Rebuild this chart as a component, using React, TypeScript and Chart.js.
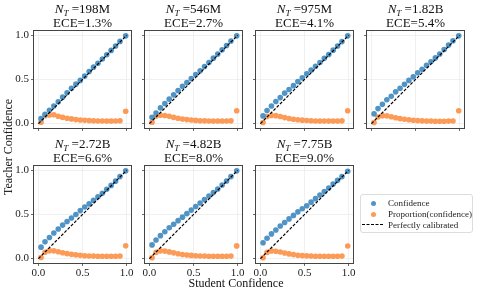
import React, { useEffect, useRef } from "react";
import { Chart, registerables } from "chart.js";
Chart.register(...registerables);

// ---------- data ----------
const studentConfidence = [0.03, 0.075, 0.125, 0.175, 0.225, 0.275, 0.325, 0.375, 0.425, 0.475, 0.525, 0.575, 0.625, 0.675, 0.725, 0.775, 0.825, 0.875, 0.925, 0.99];
const modelSizes = ["198M", "546M", "975M", "1.82B", "2.72B", "4.82B", "7.75B"];
const eceLabels = ["1.3%", "2.7%", "4.1%", "5.4%", "6.6%", "8.0%", "9.0%"];
const tickValues = [0, 0.5, 1.0];
const calibratedLine = [0, 1];

const teacher198M = [0.056, 0.105, 0.15, 0.2, 0.248, 0.3, 0.35, 0.4, 0.447, 0.49, 0.538, 0.59, 0.64, 0.684, 0.733, 0.78, 0.83, 0.88, 0.932, 0.995];
const teacher546M = [0.072, 0.12, 0.178, 0.227, 0.277, 0.326, 0.375, 0.424, 0.466, 0.51, 0.557, 0.6, 0.648, 0.693, 0.742, 0.788, 0.837, 0.886, 0.936, 0.995];
const teacher975M = [0.087, 0.148, 0.2, 0.25, 0.295, 0.345, 0.386, 0.43, 0.477, 0.52, 0.564, 0.606, 0.65, 0.693, 0.74, 0.784, 0.833, 0.88, 0.93, 0.995];
const teacher182B = [0.11, 0.17, 0.22, 0.27, 0.31, 0.36, 0.4, 0.445, 0.49, 0.53, 0.576, 0.617, 0.66, 0.7, 0.745, 0.79, 0.84, 0.89, 0.94, 0.995];
const teacher272B = [0.13, 0.19, 0.24, 0.29, 0.335, 0.38, 0.42, 0.46, 0.5, 0.544, 0.585, 0.62, 0.66, 0.7, 0.74, 0.787, 0.83, 0.878, 0.93, 0.995];
const teacher482B = [0.155, 0.21, 0.26, 0.305, 0.35, 0.39, 0.43, 0.47, 0.51, 0.55, 0.59, 0.63, 0.67, 0.71, 0.75, 0.79, 0.835, 0.88, 0.93, 0.995];
const teacher775B = [0.18, 0.23, 0.28, 0.325, 0.37, 0.41, 0.45, 0.49, 0.53, 0.566, 0.6, 0.64, 0.68, 0.72, 0.76, 0.8, 0.845, 0.887, 0.93, 0.99];

const proportion198M = [0.015, 0.09, 0.098, 0.1, 0.083, 0.07, 0.06, 0.053, 0.045, 0.041, 0.037, 0.034, 0.032, 0.03, 0.03, 0.029, 0.029, 0.03, 0.032, 0.14];
const proportion546M = [0.015, 0.085, 0.095, 0.092, 0.082, 0.07, 0.06, 0.052, 0.045, 0.04, 0.036, 0.033, 0.031, 0.03, 0.029, 0.029, 0.029, 0.03, 0.031, 0.145];
const proportion975M = [0.012, 0.08, 0.092, 0.09, 0.08, 0.068, 0.058, 0.05, 0.044, 0.039, 0.035, 0.032, 0.03, 0.029, 0.028, 0.028, 0.028, 0.029, 0.031, 0.145];
const proportion182B = [0.012, 0.075, 0.09, 0.088, 0.078, 0.066, 0.056, 0.049, 0.043, 0.038, 0.034, 0.031, 0.029, 0.028, 0.027, 0.027, 0.027, 0.028, 0.03, 0.145];
const proportion272B = [0.012, 0.072, 0.09, 0.088, 0.078, 0.066, 0.056, 0.048, 0.042, 0.037, 0.033, 0.03, 0.028, 0.027, 0.026, 0.026, 0.026, 0.027, 0.029, 0.145];
const proportion482B = [0.01, 0.07, 0.088, 0.085, 0.076, 0.065, 0.055, 0.047, 0.04, 0.036, 0.032, 0.03, 0.028, 0.027, 0.026, 0.026, 0.026, 0.027, 0.028, 0.144];
const proportion775B = [0.01, 0.07, 0.087, 0.083, 0.075, 0.064, 0.053, 0.045, 0.038, 0.034, 0.031, 0.029, 0.027, 0.026, 0.026, 0.026, 0.026, 0.027, 0.028, 0.143];

const teacherSeries = [teacher198M, teacher546M, teacher975M, teacher182B, teacher272B, teacher482B, teacher775B];
const proportionSeries = [proportion198M, proportion546M, proportion975M, proportion182B, proportion272B, proportion482B, proportion775B];

// ---------- styling ----------
const FONT = "'Liberation Serif', 'DejaVu Serif', serif";
const BLUE = "#5094c6";
const ORANGE = "#fc9b57";
const YW = 30;
const PT = 31;
const PR = 4;
const XH = 20;
const PW = 97;
const PH = 97;
const CW = YW + PW + PR;
const CH = PT + PH + XH;
const colLefts = [34, 145, 256, 367];
const rowTops = [31, 166];

const framePlugin = {
  id: "frame",
  afterDatasetsDraw(chart: any) {
    const { ctx, chartArea: a } = chart;
    ctx.save();
    ctx.strokeStyle = "#444";
    ctx.lineWidth = 1;
    ctx.strokeRect(Math.round(a.left) - 0.5, Math.round(a.top) - 0.5, Math.round(a.right - a.left) + 1, Math.round(a.bottom - a.top) + 1);
    ctx.restore();
  },
};

function makeTitlePlugin(size: string, ece: string) {
  return {
    id: "panelTitle",
    afterDraw(chart: any) {
      const { ctx, chartArea: a } = chart;
      const cx = (a.left + a.right) / 2;
      ctx.save();
      ctx.fillStyle = "#111";
      ctx.textBaseline = "alphabetic";
      const fN = `italic 13px ${FONT}`;
      const fT = `italic 9px ${FONT}`;
      const fR = `13px ${FONT}`;
      const rest = " =" + size;
      ctx.font = fN;
      const wN = ctx.measureText("N").width;
      ctx.font = fT;
      const wT = ctx.measureText("T").width;
      ctx.font = fR;
      const wR = ctx.measureText(rest).width;
      const total = wN + wT + wR;
      let x = cx - total / 2;
      const y1 = a.top - 18;
      ctx.textAlign = "left";
      ctx.font = fN;
      ctx.fillText("N", x, y1);
      x += wN;
      ctx.font = fT;
      ctx.fillText("T", x, y1 + 3);
      x += wT;
      ctx.font = fR;
      ctx.fillText(rest, x, y1);
      ctx.textAlign = "center";
      ctx.fillText("ECE=" + ece, cx, a.top - 4.5);
      ctx.restore();
    },
  };
}

function axisOpts(showLabels: boolean, isX: boolean) {
  return {
    type: "linear",
    min: -0.05,
    max: 1.05,
    afterBuildTicks: (s: any) => {
      s.ticks = tickValues.map((v) => ({ value: v }));
    },
    afterFit: (s: any) => {
      if (isX) s.height = XH;
      else s.width = YW;
    },
    grid: { color: "#ececec", lineWidth: 0.8, tickColor: "#444", tickLength: 3, drawTicks: true },
    border: { display: false },
    ticks: {
      display: showLabels,
      autoSkip: false,
      maxRotation: 0,
      padding: isX ? 1 : 2,
      color: "#222",
      font: { family: FONT, size: 11 },
      callback: (v: any) => Number(v).toFixed(1),
    },
  };
}

function Panel({ idx, left, top, showX, showY }: { idx: number; left: number; top: number; showX: boolean; showY: boolean }) {
  const ref = useRef<HTMLCanvasElement>(null);
  useEffect(() => {
    const teacher = teacherSeries[idx];
    const prop = proportionSeries[idx];
    const chart = new Chart(ref.current as HTMLCanvasElement, {
      type: "scatter",
      data: {
        datasets: [
          {
            label: "Perfectly calibrated",
            data: calibratedLine.map((v) => ({ x: v, y: v })),
            showLine: true,
            borderColor: "#000",
            borderWidth: 1.2,
            borderDash: [3, 1.6],
            pointRadius: 0,
          },
          {
            label: "Confidence",
            data: studentConfidence.map((x, i) => ({ x, y: teacher[i] })),
            backgroundColor: BLUE,
            borderWidth: 0,
            pointRadius: 2.8,
          },
          {
            label: "Proportion(confidence)",
            data: studentConfidence.map((x, i) => ({ x, y: prop[i] })),
            backgroundColor: ORANGE,
            borderWidth: 0,
            pointRadius: 2.8,
          },
        ],
      } as any,
      options: {
        animation: false,
        responsive: false,
        events: [],
        layout: { padding: { left: 0, top: PT, right: PR, bottom: 0 } },
        plugins: { legend: { display: false }, tooltip: { enabled: false } },
        scales: {
          x: axisOpts(showX, true),
          y: axisOpts(showY, false),
        } as any,
      },
      plugins: [framePlugin, makeTitlePlugin(modelSizes[idx], eceLabels[idx])],
    });
    return () => chart.destroy();
  }, [idx, showX, showY]);
  return (
    <canvas
      ref={ref}
      width={CW}
      height={CH}
      style={{ position: "absolute", left: left - YW, top: top - PT, width: CW, height: CH }}
    />
  );
}

export default function App() {
  const panels = [];
  for (let i = 0; i < 7; i++) {
    const row = Math.floor(i / 4);
    const col = i % 4;
    panels.push(
      <Panel key={i} idx={i} left={colLefts[col]} top={rowTops[row]} showX={row === 1} showY={col === 0} />
    );
  }
  const legendRow = { position: "absolute" as const, left: 388, fontSize: 9, lineHeight: "10px", color: "#222", whiteSpace: "nowrap" as const };
  return (
    <div style={{ position: "fixed", left: 0, top: 0, width: 478, height: 295, background: "#fff", fontFamily: FONT, overflow: "hidden" }}>
      {panels}
      <div style={{ position: "absolute", left: 136, top: 276, width: 200, textAlign: "center", fontSize: 12, lineHeight: "14px", color: "#111" }}>
        Student Confidence
      </div>
      <div style={{ position: "absolute", left: -92, top: 140, width: 200, height: 14, textAlign: "center", fontSize: 12, lineHeight: "14px", color: "#111", transform: "rotate(-90deg)" }}>
        Teacher Confidence
      </div>
      <div style={{ position: "absolute", left: 360, top: 194, width: 113, height: 39, border: "1px solid #dcdcdc", borderRadius: 3, boxSizing: "border-box" }} />
      <div style={{ position: "absolute", left: 370.5, top: 200.5, width: 5, height: 5, borderRadius: "50%", background: BLUE }} />
      <div style={{ ...legendRow, top: 197.5 }}>Confidence</div>
      <div style={{ position: "absolute", left: 370.5, top: 211.5, width: 5, height: 5, borderRadius: "50%", background: ORANGE }} />
      <div style={{ ...legendRow, top: 208.5 }}>Proportion(confidence)</div>
      <div style={{ position: "absolute", left: 362, top: 224, width: 21, height: 0, borderTop: "1px dashed #000" }} />
      <div style={{ ...legendRow, top: 219.5 }}>Perfectly calibrated</div>
    </div>
  );
}
